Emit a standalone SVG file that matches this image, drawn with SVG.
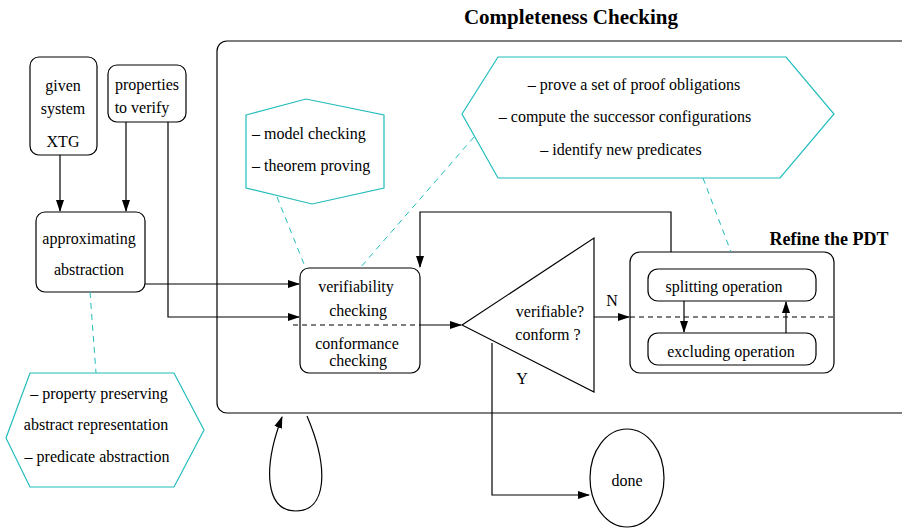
<svg xmlns="http://www.w3.org/2000/svg" width="902" height="528" viewBox="0 0 902 528">
<defs>
<marker id="ah" markerWidth="12" markerHeight="8" refX="11" refY="4" orient="auto" markerUnits="userSpaceOnUse">
<path d="M0,0 L12,4 L0,8 Z" fill="#000"/>
</marker>
<style>
text{font-family:'Liberation Serif', 'DejaVu Serif', serif;font-size:16px;fill:#000}
.b{font-weight:bold}
.m{text-anchor:middle}
.box{fill:none;stroke:#000;stroke-width:1.2}
.hex{fill:none;stroke:#22bcbc;stroke-width:1.2}
.cd{fill:none;stroke:#22bcbc;stroke-width:1;stroke-dasharray:6,5}
.ln{fill:none;stroke:#000;stroke-width:1.2}
.dl{fill:none;stroke:#000;stroke-width:1.2;stroke-dasharray:5,4}
</style>
</defs>
<rect width="902" height="528" fill="#fff"/>
<g font-family="'Liberation Serif', 'DejaVu Serif', serif">

<g id="frame">
<rect x="217" y="41" width="720" height="372" rx="10" class="box"/>
<text x="571" y="24" class="b m" style="font-size:21px">Completeness Checking</text>
</g>

<g id="given">
<rect x="30" y="57" width="67" height="98" rx="9" class="box"/>
<text x="63" y="91" class="m">given</text>
<text x="63" y="114" class="m">system</text>
<text x="63" y="147" class="m">XTG</text>
</g>

<g id="properties">
<rect x="108" y="65" width="78" height="57" rx="9" class="box"/>
<text x="147" y="90" class="m">properties</text>
<text x="142" y="113" class="m">to verify</text>
</g>

<g id="approx">
<rect x="36" y="212" width="109" height="80" rx="9" class="box"/>
<text x="89" y="244" class="m">approximating</text>
<text x="89" y="275" class="m">abstraction</text>
</g>

<g id="hexModel">
<polygon points="246,115 306,99 384,115 384,188 312,204 246,188" class="hex"/>
<text x="252" y="139">– model checking</text>
<text x="252" y="171">– theorem proving</text>
</g>

<g id="hexProve">
<polygon points="462,114 498,57 786,57 834,114 780,178 498,178" class="hex"/>
<text x="634" y="90" class="m">– prove a set of proof obligations</text>
<text x="625" y="122" class="m">– compute the successor configurations</text>
<text x="621" y="155" class="m">– identify new predicates</text>
</g>

<g id="hexAbs">
<polygon points="6,438 30,373 174,373 204,430 174,487 30,487" class="hex"/>
<text x="99" y="399" class="m">– property preserving</text>
<text x="96" y="430" class="m">abstract representation</text>
<text x="97" y="462" class="m">– predicate abstraction</text>
</g>

<g id="verif">
<rect x="300" y="268" width="120" height="105" rx="9" class="box"/>
<text x="356" y="292" class="m">verifiability</text>
<text x="358" y="316" class="m">checking</text>
<text x="357" y="349" class="m">conformance</text>
<text x="358" y="366" class="m">checking</text>
</g>

<g id="decision">
<polygon points="462,325 594,238 594,392" class="box"/>
<text x="550" y="317" class="m">verifiable?</text>
<text x="548" y="340" class="m">conform ?</text>
</g>

<g id="refine">
<rect x="630" y="252" width="204" height="121" rx="10" class="box"/>
<text x="829" y="245" class="b m" style="font-size:18px">Refine the PDT</text>
</g>

<g id="splitting">
<rect x="648" y="269" width="168" height="32" rx="10" class="box"/>
<text x="724" y="292" class="m">splitting operation</text>
</g>

<g id="excluding">
<rect x="648" y="333" width="168" height="32" rx="10" class="box"/>
<text x="731" y="357" class="m">excluding operation</text>
</g>

<g id="done">
<ellipse cx="627" cy="478" rx="37" ry="49" class="box"/>
<text x="627" y="486" class="m">done</text>
</g>

<g id="connectors">
<line x1="60" y1="155" x2="60" y2="211" class="ln" marker-end="url(#ah)"/>
<line x1="126" y1="122" x2="126" y2="211" class="ln" marker-end="url(#ah)"/>
<polyline points="168,122 168,317 299,317" class="ln" marker-end="url(#ah)"/>
<line x1="145" y1="284" x2="299" y2="284" class="ln" marker-end="url(#ah)"/>
<line x1="293" y1="325" x2="420" y2="325" class="dl"/>
<line x1="420" y1="325" x2="461" y2="325" class="ln" marker-end="url(#ah)"/>
<polyline points="671,252 671,212 420,212 420,267" class="ln" marker-end="url(#ah)"/>
<line x1="594" y1="317" x2="629" y2="317" class="ln" marker-end="url(#ah)"/>
<text x="612" y="306" class="m">N</text>
<line x1="630" y1="317" x2="834" y2="317" class="dl"/>
<line x1="684" y1="301" x2="684" y2="332" class="ln" marker-end="url(#ah)"/>
<line x1="786" y1="333" x2="786" y2="302" class="ln" marker-end="url(#ah)"/>
<polyline points="492,343 492,495 589,495" class="ln" marker-end="url(#ah)"/>
<text x="522" y="384" class="m">Y</text>
<path d="M307,416 C330,470 326,511 296,511 C266,511 262,470 282,417" class="ln" marker-end="url(#ah)"/>
<line x1="90" y1="292" x2="96" y2="373" class="cd"/>
<line x1="277" y1="197" x2="306" y2="269" class="cd"/>
<line x1="474" y1="137" x2="360" y2="268" class="cd"/>
<line x1="703" y1="178" x2="731" y2="252" class="cd"/>
</g>
</g>
</svg>
